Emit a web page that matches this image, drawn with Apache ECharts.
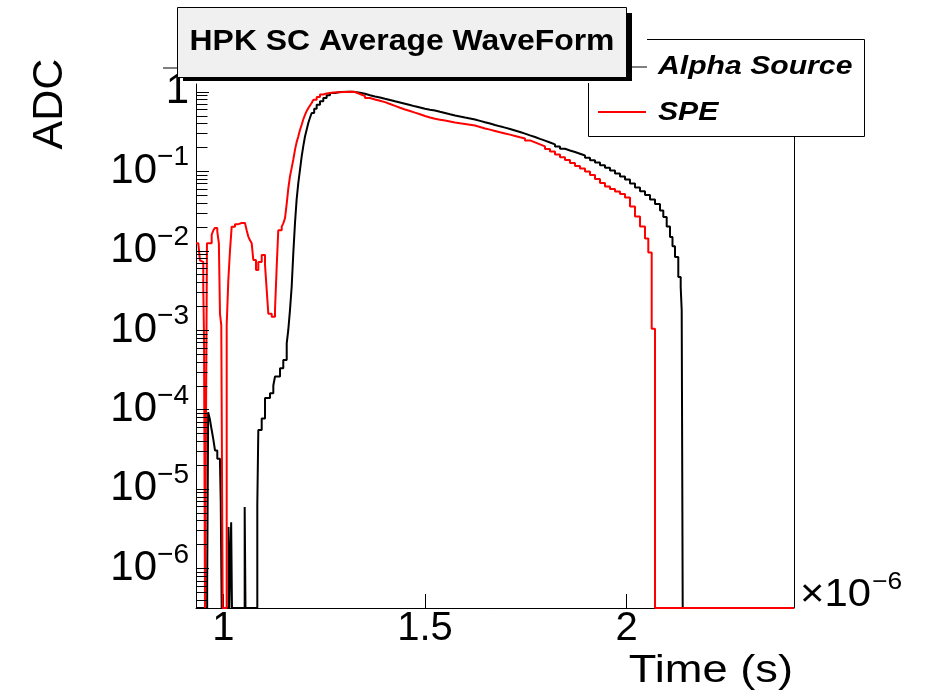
<!DOCTYPE html>
<html>
<head>
<meta charset="utf-8">
<script src="https://cdn.jsdelivr.net/npm/echarts@6/dist/echarts.min.js"></script>
<style>html,body{margin:0;padding:0;background:#fff}#c{width:929px;height:697px}</style>
</head>
<body>
<div id="c"></div>
<script>
// ---- data (time in units of 1e-6 s; each value holds from its time to the next time) ----
const alphaTime = [0.93233,0.9600,0.9625,0.9670,0.9712,0.9753,0.9794,0.9851,0.9918,0.9936,0.9960,1.0130,1.0150,1.0195,1.0215,1.0530,1.0550,1.0843,1.0868,1.0952,1.1034,1.1158,1.1240,1.1282,1.1406,1.1487,1.1572,1.1611,1.1653,1.1695,1.1735,1.1777,1.1817,1.1859,1.1901,1.1943,1.1984,1.2025,1.2066,1.2107,1.2149,1.2191,1.2253,1.2315,1.2397,1.2479,1.2562,1.2645,1.2769,1.2893,1.3141,1.3223,
  1.32648,1.33887,1.35127,1.36366,1.37605,1.38845,1.40084,1.41324,1.42563,1.43803,1.45042,1.46282,1.47521,1.48760,1.50000,1.51239,1.52479,1.53718,1.54958,1.56197,1.57437,1.58676,1.59916,1.61155,1.62395,1.63634,1.64873,1.66113,1.67352,1.68592,1.69831,1.71071,1.72310,1.73550,1.74789,1.76029,1.77268,1.78508,1.79747,1.80986,1.82226,1.83465,1.84705,1.85944,1.87184,1.88423,1.89663,1.90902,1.92142,1.93381,1.94620,1.95860,1.97099,1.98339,1.99578,2.00818,2.02057,2.03297,2.04536,2.05776,2.07015,2.08255,2.09073,2.09916,2.10734,2.11353,2.11973,2.12791,2.13386,2.13634,2.13882,2.41473];
const alphaADC = [0,6.4e-7,9.2e-5,7.4e-5,5.5e-5,4.2e-5,3.05e-5,2.4e-5,2.1e-5,7.2e-6,0,3.3e-6,0,3.8e-6,0,5.9e-6,0,6.2e-6,5.5e-5,7.7e-5,1.39e-4,1.6e-4,2.0e-4,2.6e-4,3.3e-4,4.2e-4,6.8e-4,1.0e-3,1.78e-3,3.5e-3,9.2e-3,0.0221,0.0435,0.0706,0.104,0.153,0.208,0.273,0.332,0.403,0.47,0.539,0.61,0.686,0.759,0.833,0.90,0.963,0.99,1.0,1.0,0.98,
  0.9698,0.9420,0.9020,0.8712,0.8464,0.8148,0.7870,0.7580,0.7321,0.7050,0.6790,0.6540,0.6317,0.6101,0.5943,0.5806,0.5592,0.5401,0.5202,0.5024,0.4881,0.4741,0.4606,0.4474,0.4296,0.4125,0.3972,0.3814,0.3663,0.3527,0.3387,0.3252,0.3105,0.2964,0.2822,0.2694,0.2550,0.2419,0.2291,0.2168,0.2040,0.1913,0.1822,0.1739,0.1656,0.1576,0.1475,0.1375,0.1287,0.1190,0.1104,0.1020,0.0935,0.0858,0.0782,0.0698,0.0624,0.0558,0.0499,0.0440,0.0387,0.0320,0.0264,0.0201,0.0148,0.0113,0.00827,0.00464,0.00347,0.00177,0,0];

const speTime = [0.93233,0.9380,0.9422,0.9463,0.9504,0.9522,0.9546,0.9595,0.9712,0.9753,0.9794,0.9851,0.9890,0.9918,0.9950,0.9985,1.0084,1.0124,1.0166,1.0208,1.0290,1.0373,1.0455,1.0538,1.0579,1.0620,1.0662,1.0704,1.0744,1.0811,1.0868,1.0952,1.1034,1.1076,1.1116,1.1200,1.1282,1.1324,1.1363,1.1448,1.1487,1.1529,1.1572,1.1611,1.1653,1.1695,1.1735,1.1777,1.1817,1.1859,1.1901,1.1943,1.1984,1.2025,1.2066,1.2107,1.2149,1.2191,1.2231,1.2315,1.2397,1.2479,1.2563,1.2727,
  1.31408,1.32648,1.33887,1.35127,1.36366,1.37605,1.38845,1.40084,1.41324,1.42563,1.43803,1.45042,1.46282,1.47521,1.48760,1.50000,1.51239,1.52479,1.53718,1.54958,1.56197,1.57437,1.58676,1.59916,1.61155,1.62395,1.63634,1.64873,1.66113,1.67352,1.68592,1.69831,1.71071,1.72310,1.73550,1.74789,1.76029,1.77268,1.78508,1.79747,1.80986,1.82226,1.83465,1.84705,1.85944,1.87184,1.88423,1.89663,1.90902,1.92142,1.93381,1.94620,1.95860,1.97099,1.98339,1.99578,2.00818,2.02057,2.03297,2.04536,2.05355,2.06197,2.07015,2.41473];
const speADC = [0.0124,0.0118,7.5e-3,7.2e-3,3.4e-3,8.1e-4,0,0.0124,0.0158,0.018,0.0193,0.0173,0.0124,1.6e-3,1.15e-3,0,1.15e-3,4.2e-3,0.010,0.020,0.0215,0.0222,0.0222,0.021,0.018,0.015,0.0135,0.0124,7.6e-3,5.7e-3,7.2e-3,8.8e-3,6.6e-3,3.2e-3,1.6e-3,1.47e-3,1.8e-3,6.3e-3,0.018,0.020,0.022,0.0255,0.039,0.06,0.086,0.11,0.139,0.185,0.23,0.273,0.33,0.384,0.45,0.51,0.57,0.62,0.67,0.72,0.79,0.86,0.92,0.95,0.98,1.0,
  0.9925,0.9366,0.8839,0.8341,0.7985,0.7691,0.7385,0.7010,0.6636,0.6280,0.5977,0.5722,0.5447,0.5200,0.4950,0.4740,0.4565,0.4447,0.4333,0.4221,0.4101,0.4007,0.3926,0.3847,0.3759,0.3599,0.3446,0.3329,0.3206,0.3087,0.2982,0.2880,0.2773,0.2671,0.2580,0.2434,0.2297,0.2168,0.2046,0.1902,0.1770,0.1622,0.1500,0.1384,0.1268,0.1162,0.1081,0.0991,0.0896,0.0798,0.0710,0.0642,0.0597,0.0555,0.0516,0.0467,0.0359,0.0269,0.0201,0.0142,0.00948,0.00104,0,0];

const xTickValues = [1, 1.5, 2];
const yMajorTicks = [1e-6, 1e-5, 1e-4, 1e-3, 1e-2, 1e-1, 1];
const yMinorMultipliers = [2, 3, 4, 5, 6, 7, 8, 9];
const xRange = [0.93233, 2.41473];
const yRange = [3.162e-7, 1.25];
const seriesNames = ['Alpha Source', 'SPE'];
const titleText = 'HPK SC Average WaveForm';

// ---- build ----
const FONT = '"Liberation Sans", Arial, Helvetica, sans-serif';
const floorZero = v => Math.max(v, yRange[0]);
const alphaData = alphaTime.map((t, i) => [t, floorZero(alphaADC[i])]);
const speData = speTime.map((t, i) => [t, floorZero(speADC[i])]);

const tickData = [];
yMajorTicks.forEach(v => tickData.push([xRange[0], v, 1]));
for (let e = -7; e <= 0; e++) {
  yMinorMultipliers.forEach(m => {
    const v = m * Math.pow(10, e);
    if (v > yRange[0] && v < yRange[1]) tickData.push([xRange[0], v, 0]);
  });
}

const chart = echarts.init(document.getElementById('c'), null, {renderer: 'canvas'});
chart.setOption({
  animation: false,
  backgroundColor: '#fff',
  grid: {left: 196, right: 135, top: 84, bottom: 89, show: false, containLabel: false},
  xAxis: {
    type: 'value', min: xRange[0], max: xRange[1], splitNumber: 3,
    axisLine: {show: true, onZero: false, lineStyle: {color: '#000', width: 1}},
    axisTick: {show: true, inside: true, length: 14, lineStyle: {color: '#000'}},
    splitLine: {show: false},
    axisLabel: {
      show: true, margin: 1, color: '#000', fontFamily: FONT, fontSize: 40,
      showMinLabel: false, showMaxLabel: false,
      formatter: v => {
        const hit = xTickValues.find(t => Math.abs(t - v) < 1e-6);
        return hit === undefined ? '' : String(hit);
      }
    }
  },
  yAxis: {
    type: 'log', logBase: 10, min: yRange[0], max: yRange[1],
    axisLine: {show: true, onZero: false, lineStyle: {color: '#000', width: 1}},
    axisTick: {show: false},
    minorTick: {show: false},
    splitLine: {show: false},
    axisLabel: {
      show: true, margin: 7, color: '#000', fontFamily: FONT,
      showMinLabel: false, showMaxLabel: false,
      formatter: v => {
        const lg = Math.log10(v);
        const e = Math.round(lg);
        if (Math.abs(lg - e) > 1e-6) return '';
        if (!yMajorTicks.some(t => Math.abs(Math.log10(t) - e) < 1e-6)) return '';
        if (e === 0) return '{b|1}';
        return '{b|10}{e|\u2212' + (-e) + '}';
      },
      rich: {
        b: {fontSize: 42, fontFamily: FONT, color: '#000', verticalAlign: 'middle'},
        e: {fontSize: 28, fontFamily: FONT, color: '#000', verticalAlign: 'middle', padding: [0, 0, 27, 0]}
      }
    }
  },
  series: [
    {
      name: 'yticks', type: 'custom', coordinateSystem: 'cartesian2d', silent: true, z: 5,
      data: tickData, encode: {x: 0, y: 1},
      renderItem: (params, api) => {
        const p = api.coord([api.value(0), api.value(1)]);
        const len = api.value(2) ? 13 : 11.5;
        const y = Math.round(p[1]) + 0.5;
        return {type: 'line', shape: {x1: p[0], y1: y, x2: p[0] + len, y2: y}, style: {stroke: '#000', lineWidth: 1}};
      }
    },
    {
      name: seriesNames[0], type: 'line', step: 'end', data: alphaData, symbol: 'none', z: 3,
      lineStyle: {color: '#000', width: 2}, clip: true
    },
    {
      name: seriesNames[1], type: 'line', step: 'end', data: speData, symbol: 'none', z: 4,
      lineStyle: {color: '#ff0000', width: 2}, clip: true
    }
  ],
  graphic: [
    // right frame line
    {type: 'line', z: 50, shape: {x1: 794.5, y1: 136, x2: 794.5, y2: 608}, style: {stroke: '#000', lineWidth: 1}},
    // legend box
    {type: 'rect', z: 60, shape: {x: 588, y: 39, width: 276, height: 97}, style: {fill: '#fff', stroke: null}},
    {type: 'polyline', z: 61, shape: {points: [[647, 39.5], [864.5, 39.5], [864.5, 136.5], [588.5, 136.5], [588.5, 83]]}, style: {stroke: '#000', lineWidth: 1, fill: null}},
    {type: 'line', z: 61, shape: {x1: 598, y1: 67, x2: 647, y2: 67}, style: {stroke: '#000', lineWidth: 1}},
    {type: 'line', z: 61, shape: {x1: 598, y1: 112, x2: 646, y2: 112}, style: {stroke: '#ff0000', lineWidth: 2}},
    {type: 'text', z: 62, x: 658, y: 67, scaleX: 1.16, style: {text: seriesNames[0], fontFamily: FONT, fontSize: 26, fontWeight: 'bold', fontStyle: 'italic', fill: '#000', textAlign: 'left', textVerticalAlign: 'middle'}},
    {type: 'text', z: 62, x: 658, y: 113, scaleX: 1.16, style: {text: seriesNames[1], fontFamily: FONT, fontSize: 26, fontWeight: 'bold', fontStyle: 'italic', fill: '#000', textAlign: 'left', textVerticalAlign: 'middle'}},
    // title box with shadow
    {type: 'rect', z: 70, shape: {x: 183, y: 13, width: 449, height: 68}, style: {fill: '#000'}},
    {type: 'rect', z: 71, shape: {x: 177.5, y: 7.5, width: 449, height: 70}, style: {fill: '#f0f0f0', stroke: '#000', lineWidth: 1}},
    {type: 'text', z: 72, x: 402, y: 42, scaleX: 1.1, style: {text: titleText, fontFamily: FONT, fontSize: 29, fontWeight: 'bold', fill: '#000', textAlign: 'center', textVerticalAlign: 'middle'}},
    // small stub left of title
    {type: 'line', z: 50, shape: {x1: 163, y1: 68, x2: 177, y2: 68}, style: {stroke: '#000', lineWidth: 1}},
    // axis titles
    {type: 'text', z: 50, x: 50, y: 104, rotation: Math.PI / 2, style: {text: 'ADC', fontFamily: FONT, fontSize: 43, fill: '#000', textAlign: 'center', textVerticalAlign: 'middle'}},
    {type: 'text', z: 50, x: 793, y: 671, scaleX: 1.16, style: {text: 'Time (s)', fontFamily: FONT, fontSize: 39, fill: '#000', textAlign: 'right', textVerticalAlign: 'middle'}},
    {type: 'text', z: 50, x: 800, y: 596, scaleX: 1.1, style: {text: '\u00d710', fontFamily: FONT, fontSize: 38, fill: '#000', textAlign: 'left', textVerticalAlign: 'middle'}},
    {type: 'text', z: 50, x: 872, y: 582, scaleX: 1.1, style: {text: '\u22126', fontFamily: FONT, fontSize: 24, fill: '#000', textAlign: 'left', textVerticalAlign: 'middle'}}
  ]
});
</script>
</body>
</html>
